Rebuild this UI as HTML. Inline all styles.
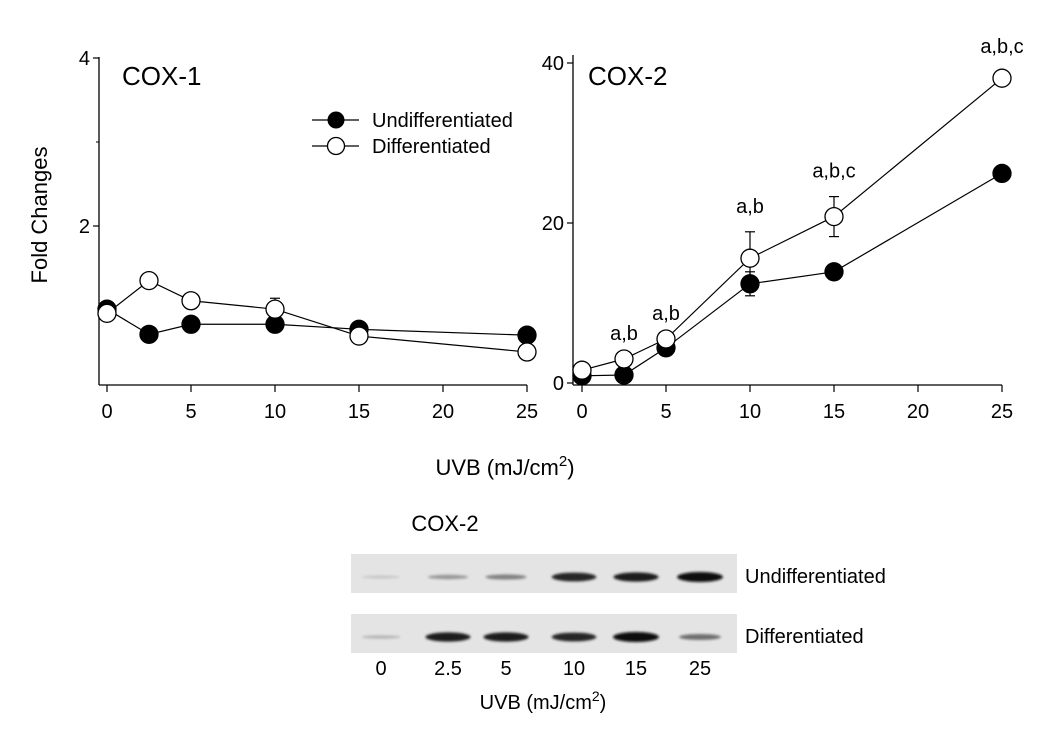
<!DOCTYPE html>
<html><head><meta charset="utf-8"><style>
body{margin:0;background:#fff;}
svg text{font-family:"Liberation Sans",Arial,sans-serif;fill:#000;}
</style></head><body>
<svg width="1050" height="735" viewBox="0 0 1050 735" id="chart">
<defs>
<filter id="blur" x="-30%" y="-100%" width="160%" height="300%"><feGaussianBlur stdDeviation="1.4"/></filter>
</defs>
<g id="left"></g>
<g id="right"></g>
<text x="47" y="215" font-size="22" text-anchor="middle" transform="rotate(-90 47 215)">Fold Changes</text>
<text x="505" y="475" font-size="22" text-anchor="middle">UVB (mJ/cm<tspan font-size="15" dy="-9">2</tspan><tspan dy="9">)</tspan></text>
<g>
<g>
<line x1="312" y1="120" x2="359" y2="120" stroke="#000" stroke-width="1.2"/>
<circle cx="336" cy="120" r="8.5" fill="#000"/>
<text x="372" y="127" font-size="20">Undifferentiated</text></g>
<g>
<line x1="312" y1="146" x2="359" y2="146" stroke="#000" stroke-width="1.2"/>
<circle cx="336" cy="146" r="8.5" fill="#fff" stroke="#000" stroke-width="1.3"/>
<text x="372" y="153" font-size="20">Differentiated</text></g>
</g>
<g id="gel"></g>
</svg>
<script>
const doses = [0, 2.5, 5, 10, 15, 25];
const xTicks = [0, 5, 10, 15, 20, 25];
const cox1Undiff = [1.01, 0.71, 0.83, 0.83, 0.77, 0.70];
const cox1Diff = [0.96, 1.35, 1.11, 1.01, 0.69, 0.50];
const cox1DiffErr = [0, 0, 0, 0.13, 0, 0];
const cox1YTicks = [2, 4];
const cox2Undiff = [0.9, 1.0, 4.4, 12.4, 13.9, 26.2];
const cox2UndiffErr = [0, 0, 0, 1.5, 0, 0];
const cox2Diff = [1.6, 3.0, 5.5, 15.6, 20.8, 38.1];
const cox2DiffErr = [0, 0, 0, 3.3, 2.5, 0.8];
const cox2YTicks = [0, 20, 40];
const cox2Annot = ["", "a,b", "a,b", "a,b", "a,b,c", "a,b,c"];
const gelLanes = ["0", "2.5", "5", "10", "15", "25"];
const gelUndiff = [0.08, 0.3, 0.4, 0.85, 0.9, 1.0];
const gelDiff = [0.15, 0.9, 0.9, 0.85, 1.0, 0.5];

const NS = "http://www.w3.org/2000/svg";
function mk(parent, tag, attrs, txt){const e=document.createElementNS(NS,tag);for(const k in attrs)e.setAttribute(k,attrs[k]);if(txt!==undefined)e.textContent=txt;parent.appendChild(e);return e;}

function panel(g, cfg){
  const xs = v => cfg.x0 + v*16.8;
  const ys = v => cfg.y0 - v*cfg.py;
  let e;
  e=mk(g,'line',{x1:cfg.ax,y1:cfg.axTop,x2:cfg.ax,y2:385,stroke:'#000','stroke-width':1.3});
   
  e=mk(g,'line',{x1:cfg.ax,y1:385,x2:xs(25),y2:385,stroke:'#000','stroke-width':1.3});
   
  cfg.yTicks.forEach(t=>{
    mk(g,'line',{x1:cfg.ax-6,y1:ys(t),x2:cfg.ax,y2:ys(t),stroke:'#000','stroke-width':1.2});
    e=mk(g,'text',{x:cfg.ax-9,y:ys(t)+7,'font-size':20,'text-anchor':'end'},String(t));
     
  });
  (cfg.minor||[]).forEach(t=>mk(g,'line',{x1:cfg.ax-3,y1:ys(t),x2:cfg.ax,y2:ys(t),stroke:'#000','stroke-width':1}));
  xTicks.forEach(t=>{
    mk(g,'line',{x1:xs(t),y1:385,x2:xs(t),y2:392,stroke:'#000','stroke-width':1.2});
    e=mk(g,'text',{x:xs(t),y:418,'font-size':20,'text-anchor':'middle'},String(t));
     
  });
  e=mk(g,'text',{x:cfg.titleX,y:85,'font-size':26},cfg.title);
   
  [[cfg.diff,'differentiated'],[cfg.undiff,'undifferentiated']].forEach(([vals,nm])=>{
    e=mk(g,'polyline',{points:vals.map((v,i)=>xs(doses[i])+','+ys(v)).join(' '),fill:'none',stroke:'#000','stroke-width':1.2});
     
  });
  [[cfg.undiff,cfg.undiffErr,'#000','undifferentiated'],[cfg.diff,cfg.diffErr,'#fff','differentiated']].forEach(([vals,err,fill,nm])=>{
    vals.forEach((v,i)=>{
      const er=err?err[i]:0;
      if(er>0){const x=xs(doses[i]);
        mk(g,'line',{x1:x,y1:ys(v+er),x2:x,y2:ys(v-er),stroke:'#000','stroke-width':1.2});
        mk(g,'line',{x1:x-5,y1:ys(v+er),x2:x+5,y2:ys(v+er),stroke:'#000','stroke-width':1.2});
        mk(g,'line',{x1:x-5,y1:ys(v-er),x2:x+5,y2:ys(v-er),stroke:'#000','stroke-width':1.2});}
      e=mk(g,'circle',{cx:xs(doses[i]),cy:ys(v),r:9,fill:fill,stroke:'#000','stroke-width':1.3});
       
    });
  });
  if(cfg.annot) cfg.annot.forEach((a,i)=>{ if(!a) return;
    const top = ys(cfg.diff[i]+(cfg.diffErr[i]||0));
    e=mk(g,'text',{x:xs(doses[i]),y:top-19,'font-size':20,'text-anchor':'middle'},a);
     
  });
}
panel(document.getElementById('left'),{x0:107,ax:99,y0:394,py:84,axTop:57,yTicks:cox1YTicks,minor:[3],title:'COX-1',titleX:122,undiff:cox1Undiff,undiffErr:null,diff:cox1Diff,diffErr:cox1DiffErr});
panel(document.getElementById('right'),{x0:582,ax:573,y0:383,py:8,axTop:55,yTicks:cox2YTicks,title:'COX-2',titleX:588,undiff:cox2Undiff,undiffErr:cox2UndiffErr,diff:cox2Diff,diffErr:cox2DiffErr,annot:cox2Annot});

const gel=document.getElementById('gel');
let e;
e=mk(gel,'text',{x:445,y:531,'font-size':22,'text-anchor':'middle'},'COX-2');
 
const laneX=[381,448,506,574,636,700];
[[554,gelUndiff,'Undifferentiated'],[614,gelDiff,'Differentiated']].forEach(([y,vals,lab])=>{
  e=mk(gel,'rect',{x:351,y:y,width:386,height:39,fill:'#e4e4e4'});
   
  vals.forEach((v,i)=>{
    const w=19+v*4, h=2+v*8, g=Math.round(210-v*200);
    e=mk(gel,'ellipse',{cx:laneX[i],cy:y+23,rx:w,ry:h/2,fill:`rgb(${g},${g},${g})`,filter:'url(#blur)'});
     
  });
  e=mk(gel,'text',{x:745,y:y+29,'font-size':20},lab);
   
});
gelLanes.forEach((l,i)=>{
  e=mk(gel,'text',{x:laneX[i],y:675,'font-size':20,'text-anchor':'middle'},l);
   
});
e=mk(gel,'text',{x:543,y:709,'font-size':20,'text-anchor':'middle'},'UVB (mJ/cm');
 
mk(e,'tspan',{'font-size':14,dy:-8},'2');
mk(e,'tspan',{dy:8},')');
</script>
</body></html>
